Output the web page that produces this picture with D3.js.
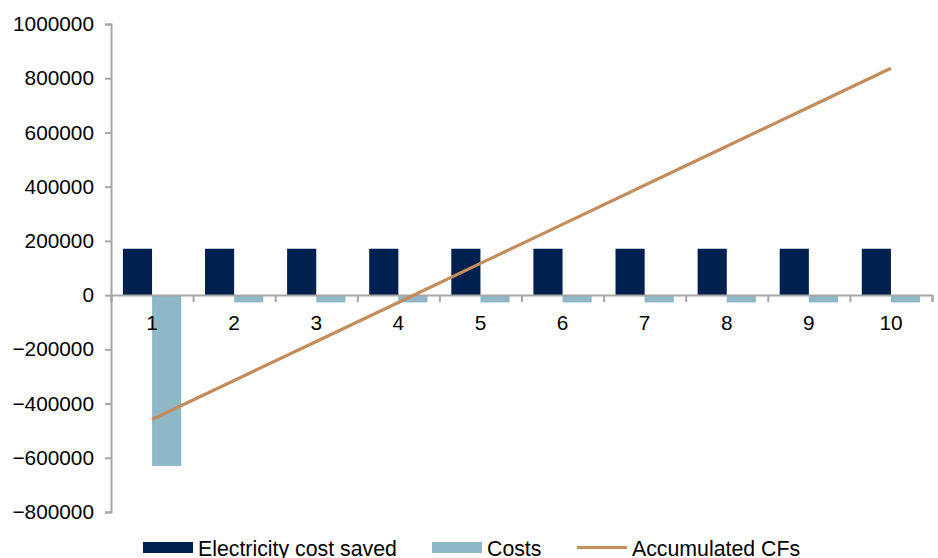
<!DOCTYPE html>
<html>
<head>
<meta charset="utf-8">
<script src="https://cdn.jsdelivr.net/npm/d3@7"></script>
<style>
  body { margin: 0; background: #fff; }
  text { font-family: "Liberation Sans", Arial, sans-serif; }
</style>
</head>
<body>
<div id="chart"></div>
<script>
// data
const years = [1, 2, 3, 4, 5, 6, 7, 8, 9, 10];
const electricitySaved = [171000, 171000, 171000, 171000, 171000, 171000, 171000, 171000, 171000, 171000];
const costs = [-630000, -27000, -27000, -27000, -27000, -27000, -27000, -27000, -27000, -27000];
const accumulatedCFs = [-459000, -315000, -171000, -27000, 117000, 261000, 405000, 549000, 693000, 837000];
const yTicks = [-800000, -600000, -400000, -200000, 0, 200000, 400000, 600000, 800000, 1000000];

const width = 938, height = 558;
const plotLeft = 111, plotRight = 932, plotTop = 24, plotBottom = 512;

const navy = "#00214F", lightBlue = "#8EB8C7", tan = "#C38D5D", axisGray = "#A6A6A6";

const svg = d3.select("#chart").append("svg")
    .attr("width", width)
    .attr("height", height);

const y = d3.scaleLinear().domain([-800000, 1000000]).range([plotBottom, plotTop]);

const x = d3.scaleBand().domain(years).range([plotLeft, plotRight])
    .paddingInner(0.29).paddingOuter(0.145);
const xSeries = d3.scaleBand().domain(["e", "c"]).range([0, x.bandwidth()]);
// category boundaries for the tick marks
const xEdge = d3.scaleLinear().domain([0, years.length]).range([plotLeft, plotRight]);

// bars
const barsE = svg.append("g");
barsE.selectAll("rect").data(years).enter().append("rect")
    .attr("x", d => x(d) + xSeries("e"))
    .attr("width", xSeries.bandwidth())
    .attr("y", (d, i) => y(Math.max(0, electricitySaved[i])))
    .attr("height", (d, i) => Math.abs(y(electricitySaved[i]) - y(0)))
    .attr("fill", navy);

const barsC = svg.append("g");
barsC.selectAll("rect").data(years).enter().append("rect")
    .attr("x", d => x(d) + xSeries("c"))
    .attr("width", xSeries.bandwidth())
    .attr("y", (d, i) => y(Math.max(0, costs[i])))
    .attr("height", (d, i) => Math.abs(y(costs[i]) - y(0)))
    .attr("fill", lightBlue);

// y axis
const yAxis = svg.append("g")
    .attr("transform", `translate(${plotLeft},0)`)
    .call(d3.axisLeft(y).tickValues(yTicks).tickSize(6).tickPadding(11).tickFormat(d3.format("d")));
yAxis.select(".domain").attr("stroke", axisGray).attr("stroke-width", 2);
yAxis.selectAll(".tick line").attr("stroke", axisGray).attr("stroke-width", 2);
yAxis.selectAll("text").attr("font-size", 20.8).attr("fill", "#000")
    .attr("font-family", "Liberation Sans, Arial, sans-serif");

// x axis at zero
const xAxis = svg.append("g")
    .attr("transform", `translate(0,${y(0)})`)
    .call(d3.axisBottom(xEdge).ticks(10).tickSize(7).tickFormat("").tickSizeOuter(7));
xAxis.select(".domain").attr("stroke", axisGray).attr("stroke-width", 2);
xAxis.selectAll(".tick line").attr("stroke", axisGray).attr("stroke-width", 2);

svg.append("g").selectAll("text").data(years).enter().append("text")
    .attr("x", d => x(d) + x.bandwidth() / 2)
    .attr("y", y(0) + 35)
    .attr("text-anchor", "middle")
    .attr("font-size", 20.8)
    .text(d => d);

// accumulated line
const line = d3.line()
    .x((d, i) => x(years[i]) + x.bandwidth() / 2)
    .y(d => y(d));
svg.append("path")
    .datum(accumulatedCFs)
    .attr("d", line)
    .attr("fill", "none")
    .attr("stroke", tan)
    .attr("stroke-width", 3.2);

// legend
const legend = [
  { name: "Electricity cost saved", color: navy, type: "rect", x: 143 },
  { name: "Costs", color: lightBlue, type: "rect", x: 432 },
  { name: "Accumulated CFs", color: tan, type: "line", x: 577 }
];
const lg = svg.append("g").selectAll("g").data(legend).enter().append("g")
    .attr("transform", d => `translate(${d.x},0)`);
lg.filter(d => d.type === "rect").append("rect")
    .attr("x", 0).attr("y", 542).attr("width", 50).attr("height", 11)
    .attr("fill", d => d.color);
lg.filter(d => d.type === "line").append("line")
    .attr("x1", 0).attr("x2", 50).attr("y1", 547.5).attr("y2", 547.5)
    .attr("stroke", d => d.color).attr("stroke-width", 3.2);
lg.append("text")
    .attr("x", 55).attr("y", 556)
    .attr("font-size", 21.3)
    .text(d => d.name);
</script>
</body>
</html>
